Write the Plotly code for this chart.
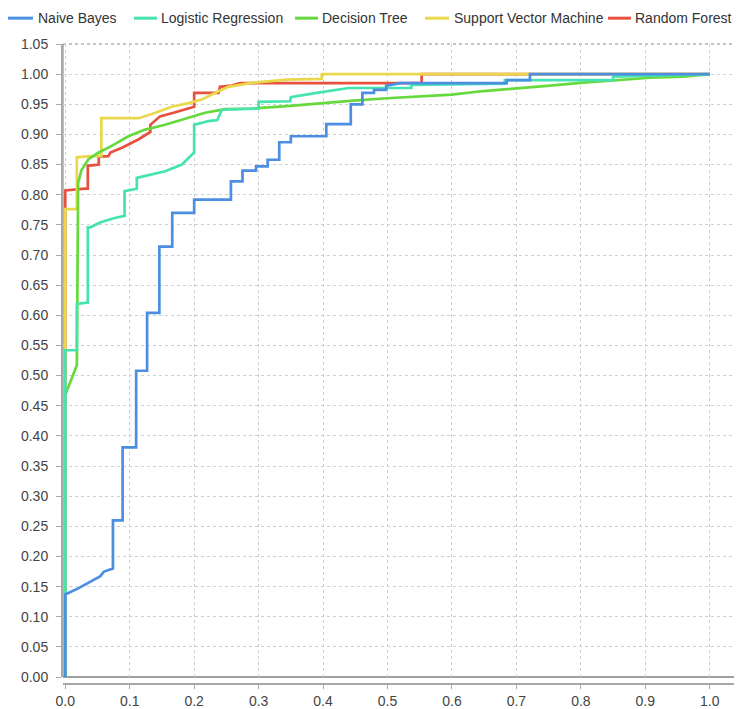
import plotly.graph_objects as go

# ---------------- data ----------------
nb_fpr = [0, 0, 0.02, 0.04, 0.054, 0.06, 0.074, 0.074, 0.089, 0.089, 0.11, 0.11, 0.127, 0.127,
          0.146, 0.146, 0.166, 0.166, 0.2, 0.2, 0.257, 0.257, 0.275, 0.275, 0.296, 0.296, 0.314,
          0.314, 0.332, 0.332, 0.35, 0.35, 0.405, 0.405, 0.443, 0.443, 0.461, 0.461, 0.479, 0.479,
          0.498, 0.498, 0.52, 0.685, 0.685, 0.721, 0.721, 1.0]
nb_tpr = [0, 0.137, 0.147, 0.158, 0.167, 0.175, 0.18, 0.26, 0.26, 0.381, 0.381, 0.508, 0.508, 0.604,
          0.604, 0.714, 0.714, 0.77, 0.77, 0.792, 0.792, 0.822, 0.822, 0.84, 0.84, 0.847, 0.847,
          0.858, 0.858, 0.887, 0.887, 0.897, 0.897, 0.917, 0.917, 0.95, 0.95, 0.969, 0.969, 0.974,
          0.974, 0.981, 0.985, 0.985, 0.99, 0.99, 1.0, 1.0]

lr_fpr = [0, 0, 0.018, 0.018, 0.035, 0.035, 0.039, 0.054, 0.075, 0.092, 0.092, 0.109, 0.111, 0.111,
          0.129, 0.155, 0.181, 0.196, 0.2, 0.2, 0.222, 0.236, 0.243, 0.3, 0.3, 0.349, 0.35, 0.39,
          0.424, 0.44, 0.537, 0.537, 0.682, 0.682, 0.85, 0.85, 1.0]
lr_tpr = [0, 0.542, 0.542, 0.619, 0.621, 0.746, 0.746, 0.754, 0.761, 0.765, 0.806, 0.81, 0.81, 0.828,
          0.832, 0.839, 0.85, 0.866, 0.87, 0.916, 0.922, 0.924, 0.941, 0.943, 0.954, 0.955, 0.962,
          0.969, 0.974, 0.977, 0.977, 0.982, 0.984, 0.99, 0.99, 0.996, 1.0]

dt_fpr = [0, 0, 0.018, 0.02, 0.025, 0.036, 0.052, 0.072, 0.098, 0.124, 0.155, 0.191, 0.217, 0.248,
          0.292, 0.344, 0.395, 0.447, 0.499, 0.55, 0.6, 0.649, 0.70, 0.752, 0.804, 0.855, 0.907,
          0.959, 1.0]
dt_tpr = [0, 0.468, 0.517, 0.82, 0.84, 0.859, 0.87, 0.881, 0.897, 0.908, 0.916, 0.927, 0.936, 0.942,
          0.943, 0.947, 0.952, 0.956, 0.96, 0.963, 0.966, 0.972, 0.976, 0.981, 0.986, 0.99, 0.994,
          0.996, 1.0]

svm_fpr = [0, 0, 0.018, 0.018, 0.039, 0.056, 0.056, 0.114, 0.14, 0.165, 0.191, 0.212, 0.233, 0.253,
           0.292, 0.344, 0.398, 0.398, 1.0]
svm_tpr = [0, 0.776, 0.776, 0.862, 0.864, 0.864, 0.927, 0.927, 0.936, 0.946, 0.952, 0.958, 0.969,
           0.979, 0.986, 0.991, 0.992, 1.0, 1.0]

rf_fpr = [0, 0, 0.031, 0.035, 0.035, 0.052, 0.052, 0.067, 0.07, 0.088, 0.114, 0.132, 0.132, 0.147,
          0.168, 0.183, 0.2, 0.2, 0.238, 0.24, 0.258, 0.271, 0.553, 0.553, 1.0]
rf_tpr = [0, 0.807, 0.81, 0.81, 0.848, 0.85, 0.863, 0.864, 0.87, 0.878, 0.892, 0.904, 0.916, 0.93,
          0.936, 0.941, 0.946, 0.969, 0.969, 0.979, 0.981, 0.985, 0.985, 1.0, 1.0]

names = ["Naive Bayes", "Logistic Regression", "Decision Tree", "Support Vector Machine", "Random Forest"]
colors = ["#4C8FE2", "#45E3B2", "#66D93D", "#EAD84C", "#E8503F"]
series_x = [nb_fpr, lr_fpr, dt_fpr, svm_fpr, rf_fpr]
series_y = [nb_tpr, lr_tpr, dt_tpr, svm_tpr, rf_tpr]

y_ticks = [round(i * 0.05, 2) for i in range(22)]
x_ticks = [round(i * 0.1, 1) for i in range(11)]

# ---------------- figure ----------------
# the page body has an 8px margin, so the figure is sized/offset to compensate
OFF = 8
W, H = 742 - OFF, 709 - OFF
ML, MR, MT, MB = 62 - OFF, 0, 44 - OFF, 709 - 688
PW, PH = W - ML - MR, H - MT - MB


def px_x(p):  # reference-pixel x -> paper
    return (p - OFF - ML) / PW


def px_y(p):  # reference-pixel y -> paper
    return (H - MB - (p - OFF)) / PH


fig = go.Figure()
# first series drawn on top (reverse rendering order)
for i in reversed(range(5)):
    fig.add_trace(go.Scatter(x=series_x[i], y=series_y[i], mode="lines", name=names[i],
                             line=dict(color=colors[i], width=2.7), showlegend=False,
                             hoverinfo="skip"))

grid = dict(showgrid=True, gridcolor="#cfcfcf", griddash="3px,3px", gridwidth=1, zeroline=False)
tickfont = dict(family="Liberation Sans, Arial, sans-serif", size=14, color="#444")

fig.update_layout(
    width=W, height=H,
    margin=dict(l=ML, r=MR, t=MT, b=MB, pad=0),
    paper_bgcolor="white", plot_bgcolor="white",
    xaxis=dict(domain=[px_x(63), 1], range=[-0.0035, 1.05], anchor="free", position=0,
               tickvals=x_ticks, ticktext=[f"{v:.1f}" for v in x_ticks],
               showline=True, linecolor="#a8a8a8", linewidth=2,
               ticks="outside", ticklen=4, tickcolor="#a8a8a8", tickwidth=1,
               tickfont=tickfont, **grid),
    yaxis=dict(domain=[px_y(681), 1], range=[0, 1.05], anchor="free", position=0,
               tickvals=y_ticks, ticktext=[f"{v:.2f}" for v in y_ticks],
               showline=True, linecolor="#a8a8a8", linewidth=2,
               ticks="outside", ticklen=5, tickcolor="#a8a8a8", tickwidth=1,
               ticklabelstandoff=5,
               tickfont=tickfont, **grid),
    showlegend=False,
)

# plot frame
fig.add_shape(type="line", xref="x domain", yref="y domain", x0=0, x1=1, y0=0, y1=0,
              line=dict(color="#a0a0a0", width=2), layer="below")
fig.add_shape(type="line", xref="x domain", yref="y domain", x0=0, x1=0, y0=0, y1=1,
              line=dict(color="#808080", width=1), layer="below")
fig.add_shape(type="line", xref="x domain", yref="y domain", x0=0, x1=1, y0=1, y1=1,
              line=dict(color="#8a8a8a", width=1, dash="3px,3px"), layer="below")

# legend (manual, to match the original layout)
leg_y = 18
leg_items = [(8, 33, 36), (134, 157, 159), (295, 318, 320), (425, 449, 452), (608, 631, 633)]
for i, (l0, l1, tx) in enumerate(leg_items):
    fig.add_shape(type="line", xref="paper", yref="paper",
                  x0=px_x(l0), x1=px_x(l1), y0=px_y(leg_y), y1=px_y(leg_y),
                  line=dict(color=colors[i], width=3))
    fig.add_annotation(xref="paper", yref="paper", x=px_x(tx), y=px_y(leg_y),
                       text=names[i], showarrow=False, xanchor="left", yanchor="middle",
                       font=dict(family="Liberation Sans, Arial, sans-serif", size=14, color="#333"))

fig.write_html("out.html")
